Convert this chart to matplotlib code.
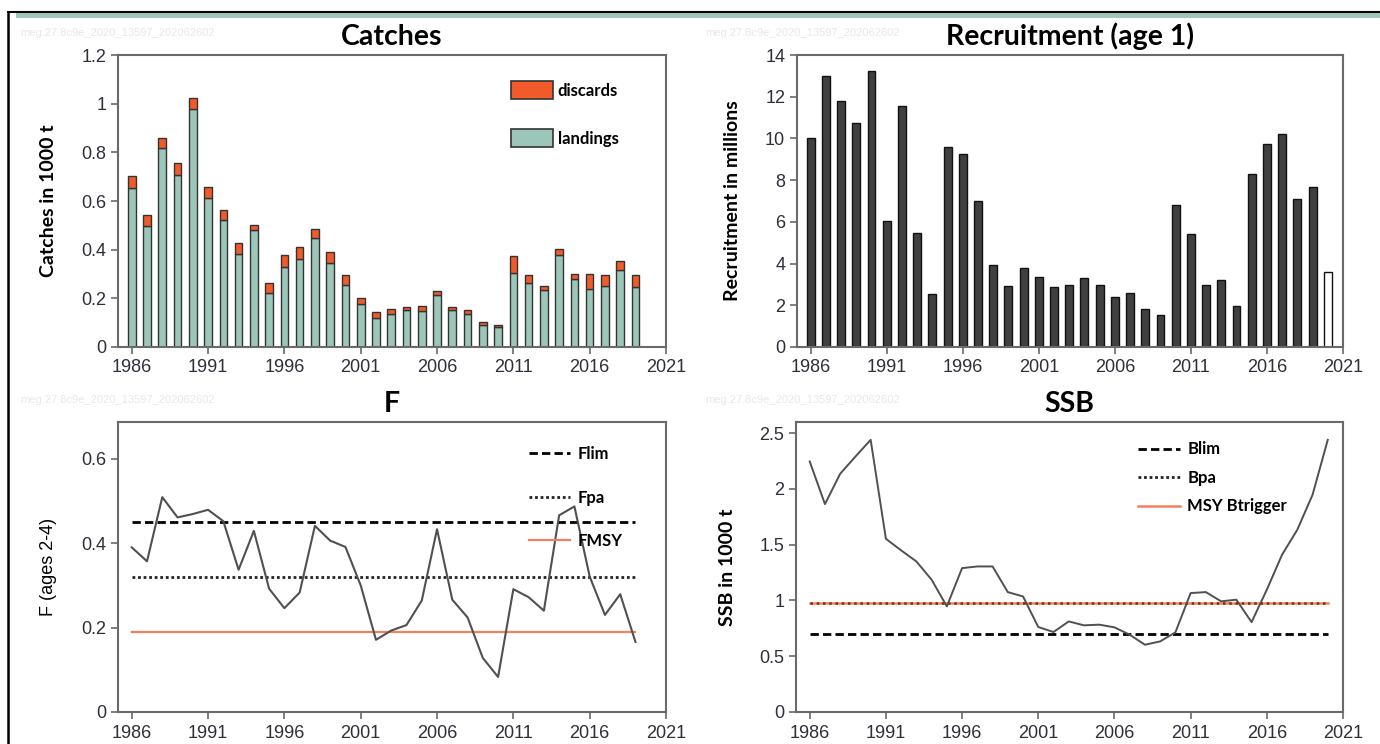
import matplotlib
matplotlib.use("Agg")
import matplotlib.pyplot as plt
from matplotlib.patches import Patch
from matplotlib.lines import Line2D

# ---- data ----
years_catch = list(range(1986, 2020))
landings = [0.653, 0.499, 0.818, 0.708, 0.979, 0.614, 0.522, 0.384, 0.479, 0.222,
            0.329, 0.360, 0.449, 0.347, 0.253, 0.178, 0.119, 0.134, 0.153, 0.148,
            0.214, 0.153, 0.134, 0.089, 0.081, 0.304, 0.263, 0.233, 0.377, 0.281,
            0.240, 0.251, 0.318, 0.245]
catch_total = [0.703, 0.542, 0.859, 0.758, 1.022, 0.656, 0.564, 0.427, 0.500, 0.264,
               0.378, 0.412, 0.486, 0.390, 0.295, 0.200, 0.144, 0.158, 0.163, 0.168,
               0.229, 0.163, 0.151, 0.103, 0.089, 0.373, 0.295, 0.252, 0.403, 0.301,
               0.301, 0.295, 0.355, 0.295]
discards = [t - l for t, l in zip(catch_total, landings)]

years_rec = list(range(1986, 2021))
recruitment = [10.04, 12.98, 11.78, 10.72, 13.25, 6.03, 11.57, 5.47, 2.53, 9.60,
               9.25, 7.02, 3.92, 2.94, 3.79, 3.37, 2.88, 2.96, 3.31, 2.96,
               2.40, 2.59, 1.84, 1.55, 6.81, 5.42, 2.96, 3.23, 1.97, 8.28,
               9.73, 10.23, 7.08, 7.66, 3.58]

years_f = list(range(1986, 2020))
f_values = [0.390, 0.357, 0.509, 0.461, 0.469, 0.479, 0.452, 0.337, 0.429, 0.292,
            0.246, 0.283, 0.441, 0.406, 0.391, 0.300, 0.171, 0.193, 0.206, 0.264,
            0.433, 0.266, 0.224, 0.128, 0.083, 0.291, 0.272, 0.240, 0.466, 0.487,
            0.321, 0.230, 0.279, 0.166]
f_lim, f_pa, f_msy = 0.45, 0.32, 0.19

years_ssb = list(range(1986, 2021))
ssb = [2.246, 1.864, 2.136, 2.290, 2.440, 1.553, 1.449, 1.350, 1.186, 0.947,
       1.290, 1.305, 1.305, 1.075, 1.036, 0.762, 0.717, 0.812, 0.777, 0.783,
       0.759, 0.693, 0.603, 0.633, 0.714, 1.066, 1.075, 0.992, 1.007, 0.806,
       1.096, 1.410, 1.634, 1.947, 2.440]
b_lim, b_pa, msy_btrigger = 0.70, 0.98, 0.98

year_ticks = [1986, 1991, 1996, 2001, 2006, 2011, 2016, 2021]
watermark = "meg.27.8c9e_2020_13597_202062602"

# ---- styling ----
landings_color = "#9cc6b9"
discards_color = "#f15a29"
rec_color = "#404040"
msy_color = "#f3805e"
spine_color = "#6a6a6a"
tick_color = "#2f2f3a"
title_font = "Lato"
tick_font = "Liberation Sans"

W, H = 1380, 744
fig = plt.figure(figsize=(W / 100, H / 100), dpi=100)


def px_axes(left, top, right, bottom):
    return fig.add_axes([left / W, 1 - bottom / H, (right - left) / W, (bottom - top) / H])


def style_axes(ax, ylim, yticks, ylabels, ylabel, label_bold=True):
    ax.set_xlim(1985.1, 2021)
    ax.set_ylim(*ylim)
    ax.set_xticks(year_ticks)
    ax.set_xticklabels([str(y) for y in year_ticks], fontfamily=tick_font, fontsize=13, color=tick_color)
    ax.set_yticks(yticks)
    ax.set_yticklabels(ylabels, fontfamily=tick_font, fontsize=13, color=tick_color)
    ax.tick_params(axis="x", pad=4)
    ax.tick_params(direction="out", length=5, width=1.2, color=spine_color)
    for s in ax.spines.values():
        s.set_color(spine_color)
        s.set_linewidth(1.5)
    if label_bold:
        ax.set_ylabel(ylabel, fontfamily=title_font, fontweight="bold", fontsize=14, labelpad=17)
    else:
        ax.set_ylabel(ylabel, fontfamily=tick_font, fontsize=13, labelpad=17)


def set_title(ax, text):
    ax.set_title(text, fontfamily=title_font, fontweight="bold", fontsize=20.5, pad=7)


# Catches
ax1 = px_axes(118, 55, 666, 347)
ax1.bar(years_catch, landings, width=0.5, color=landings_color, edgecolor="#333333", linewidth=1.0)
ax1.bar(years_catch, discards, width=0.5, bottom=landings, color=discards_color, edgecolor="#333333", linewidth=1.0)
style_axes(ax1, (0, 1.2), [0, 0.2, 0.4, 0.6, 0.8, 1.0, 1.2],
           ["0", "0.2", "0.4", "0.6", "0.8", "1", "1.2"], "Catches in 1000 t")
set_title(ax1, "Catches")
h_catch = [Patch(facecolor=discards_color, edgecolor="#333333", linewidth=1.2, label="discards"),
           Patch(facecolor=landings_color, edgecolor="#333333", linewidth=1.2, label="landings")]
ax1.legend(handles=h_catch, loc="upper left", bbox_to_anchor=(0.702, 0.938), frameon=False,
           borderpad=0, handlelength=2.5, handleheight=1.2, labelspacing=1.85, handletextpad=0.3,
           prop={"family": title_font, "weight": "bold", "size": 12})

# Recruitment
ax2 = px_axes(797, 55, 1343, 347)
rec_faces = [rec_color] * (len(recruitment) - 1) + ["white"]
ax2.bar(years_rec, recruitment, width=0.52, color=rec_faces, edgecolor="#111111", linewidth=1.0)
style_axes(ax2, (0, 14), [0, 2, 4, 6, 8, 10, 12, 14],
           ["0", "2", "4", "6", "8", "10", "12", "14"], "Recruitment in millions")
set_title(ax2, "Recruitment (age 1)")

# F
ax3 = px_axes(118, 422, 666, 712)
x_ref_f = [years_f[0], years_f[-1]]
ax3.plot(x_ref_f, [f_lim, f_lim], color="black", lw=2.0, linestyle=(0, (3, 1.5)), label="Flim")
ax3.plot(x_ref_f, [f_pa, f_pa], color="#222222", lw=2.0, linestyle=(0, (1, 1)), label="Fpa")
ax3.plot(x_ref_f, [f_msy, f_msy], color=msy_color, lw=1.6, label="FMSY")
ax3.plot(years_f, f_values, color="#505050", lw=1.5)
style_axes(ax3, (0, 0.687), [0, 0.2, 0.4, 0.6], ["0", "0.2", "0.4", "0.6"], "F (ages 2-4)", label_bold=False)
set_title(ax3, "F")
ax3.legend(loc="upper left", bbox_to_anchor=(0.734, 0.945), frameon=False, borderpad=0,
           handlelength=2.5, labelspacing=1.65, handletextpad=0.45,
           prop={"family": title_font, "weight": "bold", "size": 12})

# SSB
ax4 = px_axes(796, 422, 1343, 712)
x_ref_b = [years_ssb[0], years_ssb[-1]]
ax4.plot(x_ref_b, [b_lim, b_lim], color="black", lw=2.0, linestyle=(0, (3, 1.5)))
ax4.plot(x_ref_b, [msy_btrigger, msy_btrigger], color=msy_color, lw=1.8)
ax4.plot(x_ref_b, [b_pa, b_pa], color="#7a2a1a", lw=1.8, linestyle=(0, (1, 1.5)))
ax4.plot(years_ssb, ssb, color="#505050", lw=1.4)
style_axes(ax4, (0, 2.6), [0, 0.5, 1.0, 1.5, 2.0, 2.5], ["0", "0.5", "1", "1.5", "2", "2.5"], "SSB in 1000 t")
set_title(ax4, "SSB")
h_ssb = [Line2D([], [], color="black", lw=2.0, linestyle=(0, (3, 1.5)), label="Blim"),
         Line2D([], [], color="#222222", lw=2.0, linestyle=(0, (1, 1)), label="Bpa"),
         Line2D([], [], color=msy_color, lw=1.8, label="MSY Btrigger")]
ax4.legend(handles=h_ssb, loc="upper left", bbox_to_anchor=(0.61, 0.962), frameon=False, borderpad=0,
           handlelength=2.5, labelspacing=0.75, handletextpad=0.45,
           prop={"family": title_font, "weight": "bold", "size": 12})

# faint watermarks
for (wx, wy) in [(20, 33), (705, 33), (20, 400), (705, 400)]:
    fig.text(wx / W, 1 - wy / H, watermark, fontsize=8, color="#e8e8e8", fontfamily=tick_font, va="center")

# screenshot frame
fig.add_artist(Line2D([18 / W, 1377 / W], [1 - 14.5 / H, 1 - 14.5 / H], color=landings_color, lw=3.5))
fig.add_artist(Line2D([8 / W, 1], [1 - 12 / H, 1 - 12 / H], color="black", lw=1.5))
fig.add_artist(Line2D([8 / W, 8 / W], [0, 1 - 12 / H], color="black", lw=1.8))

fig.savefig("out.png", dpi=100)
